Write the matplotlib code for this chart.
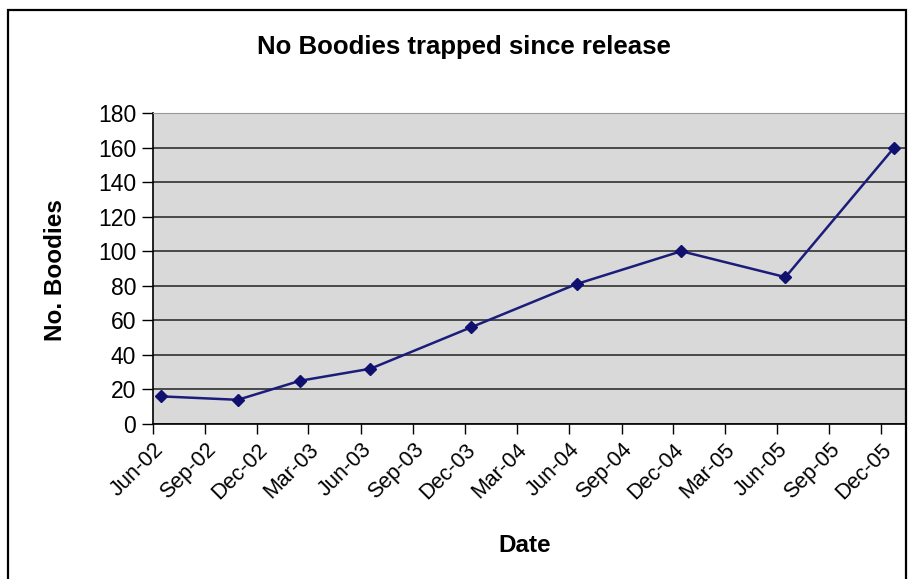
import matplotlib.pyplot as plt
import matplotlib.dates as mdates
from matplotlib.patches import Rectangle
from datetime import datetime

plt.rcParams['font.family'] = ['Liberation Sans', 'DejaVu Sans']

# Trapping dates and number of boodies caught
dates = [datetime(2002, 6, 15), datetime(2002, 10, 28), datetime(2003, 2, 14),
         datetime(2003, 6, 18), datetime(2003, 12, 12), datetime(2004, 6, 14),
         datetime(2004, 12, 15), datetime(2005, 6, 16), datetime(2005, 12, 24)]
boodies = [16, 14, 25, 32, 56, 81, 100, 85, 160]

fig = plt.figure(figsize=(9.08, 5.79), dpi=100)
fig.patch.set_facecolor('white')

# chart border
fig.patches.append(Rectangle((8 / 908, -0.05), 898 / 908, 1.05 - 10 / 579,
                             transform=fig.transFigure, fill=False,
                             edgecolor='black', linewidth=1.6))

ax = fig.add_axes([153 / 908, 1 - 424 / 579, 752 / 908, 311 / 579])
ax.set_facecolor('#d9d9d9')

ax.plot(dates, boodies, color='#1c1c7a', linewidth=1.8, marker='D',
        markersize=6.5, markerfacecolor='#10106e', markeredgecolor='#10106e',
        zorder=3)

ax.set_ylim(0, 180)
ax.set_yticks(range(0, 181, 20))
ax.set_xlim(datetime(2002, 6, 1), datetime(2006, 1, 12))
ax.xaxis.set_major_locator(mdates.MonthLocator(bymonth=[3, 6, 9, 12]))
ax.xaxis.set_major_formatter(mdates.DateFormatter('%b-%y'))

ax.grid(axis='y', color='#222222', linewidth=1.1)
ax.set_axisbelow(True)
for s in ['left', 'bottom']:
    ax.spines[s].set_color('black')
    ax.spines[s].set_linewidth(1.2)
for s in ['top', 'right']:
    ax.spines[s].set_color('#999999')
    ax.spines[s].set_linewidth(0.8)

ax.tick_params(axis='y', labelsize=16.5, length=8, width=1, pad=4)
ax.tick_params(axis='x', labelsize=15.5, length=7, width=1, pad=4)
for lbl in ax.get_xticklabels():
    lbl.set_rotation(45)
    lbl.set_ha('right')
    lbl.set_rotation_mode('anchor')

fig.text(464 / 908, 1 - 47 / 579, 'No Boodies trapped since release',
         ha='center', va='center', fontsize=18.5, fontweight='bold')
fig.text(55 / 908, 1 - 270 / 579, 'No. Boodies', ha='center', va='center',
         rotation=90, fontsize=17.5, fontweight='bold')
fig.text(525 / 908, 1 - 546 / 579, 'Date', ha='center', va='center',
         fontsize=17.5, fontweight='bold')

fig.savefig('out.png', dpi=100)
